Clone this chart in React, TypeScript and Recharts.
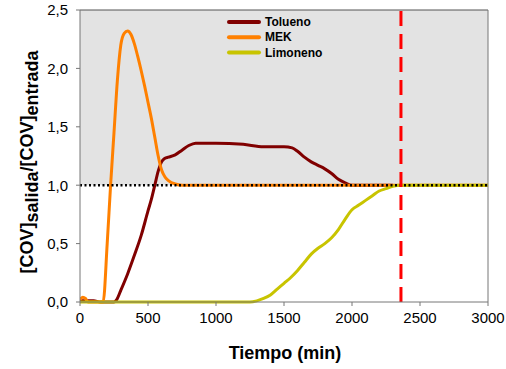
import { LineChart, Line, XAxis, YAxis, ReferenceArea, ReferenceLine } from 'recharts';

// breakthrough curves, time in minutes, outlet/inlet ratio
const TIME_TOLUENO = [0, 100, 150, 250, 270, 300, 350, 400, 450, 500, 525, 550, 575, 600, 625, 650, 700, 750, 800, 850, 1000, 1200, 1350, 1500, 1560, 1600, 1650, 1700, 1750, 1800, 1850, 1900, 1950, 2000, 2300];
const TOLUENO = [0.01, 0.01, 0, 0, 0.02, 0.1, 0.24, 0.4, 0.57, 0.78, 0.88, 1.0, 1.12, 1.2, 1.23, 1.24, 1.26, 1.3, 1.34, 1.36, 1.36, 1.35, 1.33, 1.33, 1.32, 1.29, 1.24, 1.2, 1.17, 1.14, 1.1, 1.05, 1.02, 1.0, 1.0];

const TIME_MEK = [0, 20, 40, 60, 170, 200, 225, 250, 275, 300, 325, 350, 375, 400, 425, 450, 475, 500, 525, 550, 575, 600, 625, 650, 700, 750, 3000];
const MEK = [0.02, 0.04, 0.03, 0, 0, 0.5, 1.0, 1.45, 1.9, 2.2, 2.3, 2.32, 2.29, 2.21, 2.1, 1.98, 1.85, 1.71, 1.57, 1.41, 1.25, 1.13, 1.07, 1.04, 1.01, 1.0, 1.0];

const TIME_LIMONENO = [0, 1250, 1300, 1350, 1400, 1450, 1500, 1550, 1600, 1650, 1700, 1750, 1800, 1850, 1900, 1950, 2000, 2050, 2100, 2150, 2200, 2250, 2300, 2350, 3000];
const LIMONENO = [0, 0, 0.01, 0.03, 0.06, 0.11, 0.16, 0.21, 0.27, 0.34, 0.41, 0.46, 0.5, 0.55, 0.62, 0.71, 0.79, 0.83, 0.87, 0.91, 0.95, 0.97, 0.99, 1.0, 1.0];

const X_TICKS = [0, 500, 1000, 1500, 2000, 2500, 3000];
const Y_TICKS = [0, 0.5, 1, 1.5, 2, 2.5];
const SATURATION_TIME = 2360;

const toPoints = (t: number[], v: number[]) => t.map((x, i) => ({ t: x, v: v[i] }));

const SERIES = [
  { name: 'Tolueno', color: '#800000', data: toPoints(TIME_TOLUENO, TOLUENO) },
  { name: 'MEK', color: '#ff8000', data: toPoints(TIME_MEK, MEK) },
  { name: 'Limoneno', color: '#c8c400', data: toPoints(TIME_LIMONENO, LIMONENO) },
];

const FONT = '"Liberation Sans", Arial, sans-serif';
const tick = { fontSize: 15, fill: '#000', fontFamily: FONT };

function YTitle() {
  return (
    <text x={33} y={162} textAnchor="middle" transform="rotate(-90, 33, 162)"
      fontFamily={FONT} fontWeight="bold" fontSize={18} fill="#000">
      <tspan>[COV]</tspan>
      <tspan dy={5}>salida</tspan>
      <tspan dy={-5}>/[COV]</tspan>
      <tspan dy={5}>entrada</tspan>
    </text>
  );
}

export default function App() {
  return (
    <div style={{ position: 'absolute', left: 0, top: 0, width: 506, height: 369, background: '#fff' }}>
      <LineChart width={506} height={369} data={SERIES[0].data} margin={{ top: 10, right: 18, bottom: 37, left: 0 }}>
        <ReferenceArea x1={0} x2={3000} y1={1} y2={2.5} fill="#e3e3e3" fillOpacity={1} stroke="none" />
        <XAxis dataKey="t" type="number" domain={[0, 3000]} ticks={X_TICKS} allowDataOverflow
          tick={tick} tickSize={4} tickMargin={6} height={30}
          axisLine={{ stroke: '#777' }} tickLine={{ stroke: '#777' }} />
        <YAxis type="number" domain={[0, 2.5]} ticks={Y_TICKS} width={80}
          tick={tick} tickSize={4} tickMargin={8}
          tickFormatter={(v: number) => v.toFixed(1).replace('.', ',')}
          axisLine={{ stroke: '#777' }} tickLine={{ stroke: '#777' }} />
        {SERIES.map(s => (
          <Line key={s.name} data={s.data} dataKey="v" name={s.name} type="monotone"
            stroke={s.color} strokeWidth={3} dot={false} activeDot={false} isAnimationActive={false} />
        ))}
        <ReferenceLine y={1} stroke="#000" strokeWidth={2.5} strokeDasharray="2 2.5" />
        <ReferenceLine x={SATURATION_TIME} stroke="#ff0000" strokeWidth={3} strokeDasharray="15 8" />
        <ReferenceLine y={2.5} stroke="#555" strokeWidth={1} />
        <ReferenceLine x={3000} stroke="#777" strokeWidth={1} />
      </LineChart>
      <svg width={506} height={369} style={{ position: 'absolute', left: 0, top: 0, pointerEvents: 'none' }}>
        <YTitle />
        <text x={285} y={359} textAnchor="middle" fontFamily={FONT} fontWeight="bold" fontSize={18} fill="#000">
          Tiempo (min)
        </text>
        {SERIES.map((s, i) => (
          <g key={s.name}>
            <line x1={229} x2={259} y1={22 + i * 15.3} y2={22 + i * 15.3} stroke={s.color} strokeWidth={4} strokeLinecap="round" />
            <text x={265} y={26 + i * 15.3} fontFamily={'"Liberation Sans Narrow", "Arial Narrow", sans-serif'}
              fontWeight="bold" fontSize={12} fill="#000">{s.name}</text>
          </g>
        ))}
      </svg>
    </div>
  );
}
